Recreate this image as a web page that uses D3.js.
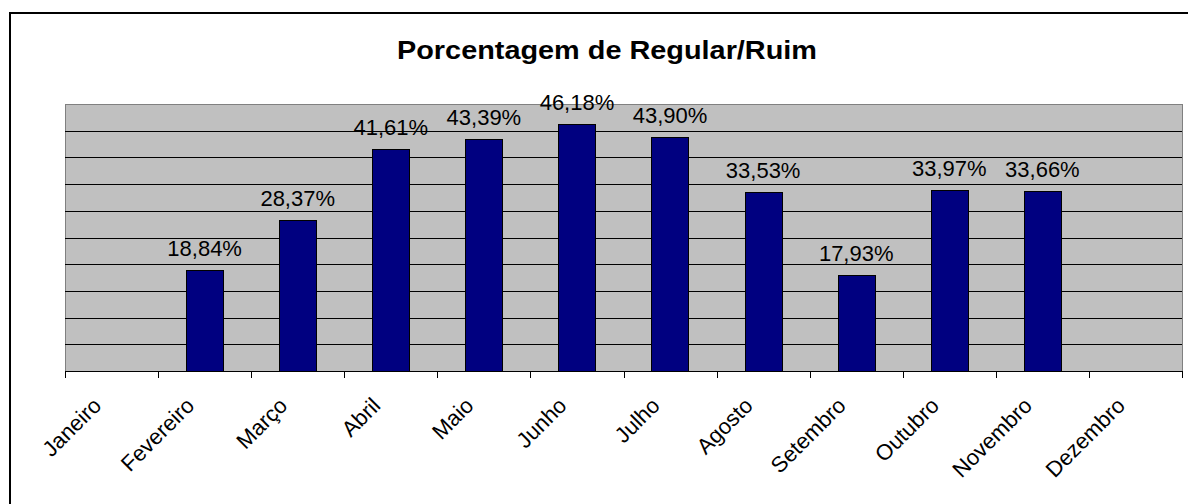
<!DOCTYPE html>
<meta charset="utf-8">
<style>
body { margin: 0; background: #fff; overflow: hidden; }
svg { display: block; }
text { font-family: Arial, "Liberation Sans", sans-serif; fill: #000; }
.title { font-size: 26px; font-weight: bold; }
.val { font-size: 22px; }
.month { font-size: 22px; }
</style>
<svg width="1188" height="504"></svg>
<script src="https://d3js.org/d3.v7.min.js"></script>
<script>

// data
var months = ["Janeiro", "Fevereiro", "Março", "Abril", "Maio", "Junho",
              "Julho", "Agosto", "Setembro", "Outubro", "Novembro", "Dezembro"];
var values = [null, 18.84, 28.37, 41.61, 43.39, 46.18, 43.90, 33.53, 17.93, 33.97, 33.66, null];
var yTicks = [5, 10, 15, 20, 25, 30, 35, 40, 45];
var title = "Porcentagem de Regular/Ruim";

var svg = d3.select("svg"),
    plot = {left: 65, right: 1182, top: 104, bottom: 371};

var data = months.map(function(m, i) { return {month: m, value: values[i]}; });

// outer frame, only left and top edges fall inside the picture
svg.append("path")
    .attr("d", "M10,504V13H1188")
    .attr("fill", "none")
    .attr("stroke", "#000")
    .attr("stroke-width", 2);

svg.append("text")
    .attr("class", "title")
    .attr("x", 607)
    .attr("y", 59)
    .attr("text-anchor", "middle")
    .attr("textLength", 420)
    .attr("lengthAdjust", "spacingAndGlyphs")
    .text(title);

var x = d3.scaleBand()
    .domain(months)
    .range([plot.left, plot.right])
    .paddingInner(0.6)
    .paddingOuter(0.3);

var y = d3.scaleLinear()
    .domain([0, 50])
    .range([plot.bottom, plot.top]);

// plot area
svg.append("rect")
    .attr("x", plot.left + 0.5)
    .attr("y", y(50) + 0.5)
    .attr("width", plot.right - plot.left)
    .attr("height", plot.bottom - plot.top)
    .attr("fill", "#c0c0c0")
    .attr("stroke", "#808080")
    .attr("stroke-width", 1);

// gridlines
svg.append("g").selectAll("line")
    .data(yTicks)
    .enter().append("line")
    .attr("x1", plot.left).attr("x2", plot.right)
    .attr("y1", function(d) { return Math.round(y(d)) + 0.5; })
    .attr("y2", function(d) { return Math.round(y(d)) + 0.5; })
    .attr("stroke", "#000")
    .attr("stroke-width", 1);

// bars
var shown = data.filter(function(d) { return d.value != null; });

svg.append("g").selectAll("rect")
    .data(shown)
    .enter().append("rect")
    .attr("x", function(d) { return Math.round(x(d.month)) + 0.5; })
    .attr("y", function(d) { return Math.round(y(d.value)) + 0.5; })
    .attr("width", Math.round(x.bandwidth()))
    .attr("height", function(d) { return Math.round(y(0)) - Math.round(y(d.value)); })
    .attr("fill", "#000080")
    .attr("stroke", "#000")
    .attr("stroke-width", 1);

// value labels
svg.append("g").selectAll("text")
    .data(shown)
    .enter().append("text")
    .attr("class", "val")
    .attr("x", function(d) { return x(d.month) + x.bandwidth() / 2; })
    .attr("y", function(d) { return y(d.value) - 14; })
    .attr("text-anchor", "middle")
    .text(function(d) { return d.value.toFixed(2).replace(".", ",") + "%"; });

// x axis: baseline + ticks at category boundaries
var edges = months.map(function(m) { return x(m) - (x.step() - x.bandwidth()) / 2; });
edges.push(plot.right);

svg.append("line")
    .attr("x1", plot.left).attr("x2", plot.right + 1)
    .attr("y1", plot.bottom + 0.5).attr("y2", plot.bottom + 0.5)
    .attr("stroke", "#000");

svg.append("g").selectAll("line")
    .data(edges)
    .enter().append("line")
    .attr("x1", function(d) { return Math.round(d) + 0.5; })
    .attr("x2", function(d) { return Math.round(d) + 0.5; })
    .attr("y1", plot.bottom).attr("y2", plot.bottom + 7)
    .attr("stroke", "#000");

svg.append("g").selectAll("text")
    .data(months)
    .enter().append("text")
    .attr("class", "month")
    .attr("text-anchor", "end")
    .attr("transform", function(d) {
      return "translate(" + (x(d) + x.bandwidth() / 2 - 9) + "," + 407 + ") rotate(-45)";
    })
    .text(function(d) { return d; });

</script>
